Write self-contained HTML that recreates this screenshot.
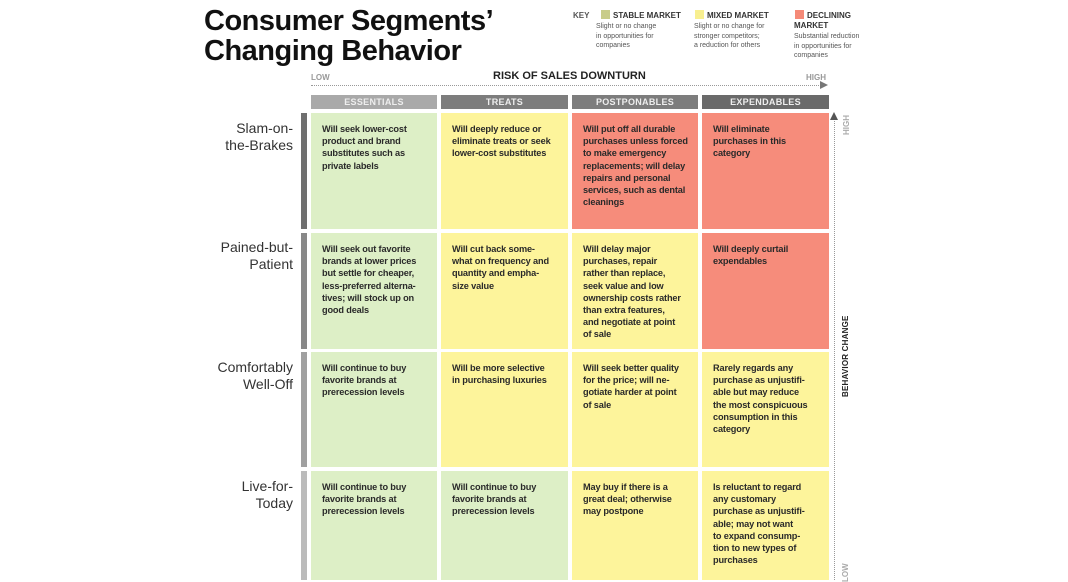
<!DOCTYPE html>
<html><head><meta charset="utf-8"><style>
*{margin:0;padding:0;box-sizing:border-box}
body{width:1068px;height:580px;background:#fff;position:relative;overflow:hidden;font-family:"Liberation Sans",sans-serif;color:#222}
.a{position:absolute}
.t{font-weight:bold;font-size:29px;letter-spacing:-0.5px;line-height:30px;color:#111}
.hd{position:absolute;top:95px;height:14px;color:#eee;font-size:9px;font-weight:bold;text-align:center;line-height:14px;letter-spacing:0.3px}
.c{position:absolute;font-size:9.2px;font-weight:bold;line-height:12.2px;padding:10px 2px 0 11px;color:#2a2a2a;letter-spacing:-0.15px}
.g{background:#ddefc6}.y{background:#fdf49b}.r{background:#f68c7b}
.rl{position:absolute;right:775px;text-align:right;font-size:14px;line-height:17px;color:#333}
.bar{position:absolute;left:301px;width:6px}
.k{font-size:7px;line-height:9.5px;color:#555}
.kh{font-size:8px;font-weight:bold;color:#333}
</style></head><body>
<div class="a t" style="left:204px;top:6px">Consumer Segments’<br>Changing Behavior</div>

<div class="a kh" style="left:573px;top:11px;color:#555">KEY</div>
<div class="a" style="left:601px;top:10px;width:9px;height:9px;background:#c8cc8a"></div>
<div class="a kh" style="left:613px;top:11px">STABLE MARKET</div>
<div class="a k" style="left:596px;top:22px">Slight or no change<br>in opportunities for<br>companies</div>
<div class="a" style="left:695px;top:10px;width:9px;height:9px;background:#f8ef90"></div>
<div class="a kh" style="left:707px;top:11px">MIXED MARKET</div>
<div class="a k" style="left:694px;top:22px">Slight or no change for<br>stronger competitors;<br>a reduction for others</div>
<div class="a" style="left:795px;top:10px;width:9px;height:9px;background:#f58a78"></div>
<div class="a kh" style="left:807px;top:11px;line-height:9.5px">DECLINING<br><span style="margin-left:-13px">MARKET</span></div>
<div class="a k" style="left:794px;top:32px">Substantial reduction<br>in opportunities for<br>companies</div>

<div class="a" style="left:311px;top:73px;font-size:8px;font-weight:bold;color:#999">LOW</div>
<div class="a" style="left:493px;top:70px;font-size:11px;font-weight:bold;color:#222">RISK OF SALES DOWNTURN</div>
<div class="a" style="left:806px;top:73px;font-size:8px;font-weight:bold;color:#999">HIGH</div>
<div class="a" style="left:311px;top:85px;width:512px;border-top:1.5px dotted #999"></div>
<div class="a" style="left:820px;top:81px;width:0;height:0;border-left:8px solid #777;border-top:4px solid transparent;border-bottom:4px solid transparent"></div>

<div class="hd" style="left:311px;width:126px;background:#a9a9a9">ESSENTIALS</div>
<div class="hd" style="left:441px;width:127px;background:#7d7d7d">TREATS</div>
<div class="hd" style="left:572px;width:126px;background:#7d7d7d">POSTPONABLES</div>
<div class="hd" style="left:702px;width:127px;background:#6a6a6a">EXPENDABLES</div>

<div class="rl" style="top:120px">Slam-on-<br>the-Brakes</div>
<div class="rl" style="top:239px">Pained-but-<br>Patient</div>
<div class="rl" style="top:359px">Comfortably<br>Well-Off</div>
<div class="rl" style="top:478px">Live-for-<br>Today</div>

<div class="bar" style="top:113px;height:116px;background:#6f6f6f"></div>
<div class="bar" style="top:233px;height:116px;background:#888"></div>
<div class="bar" style="top:352px;height:115px;background:#a0a0a0"></div>
<div class="bar" style="top:471px;height:109px;background:#bbb"></div>

<div class="c g" style="left:311px;top:113px;width:126px;height:116px">Will seek lower-cost<br>product and brand<br>substitutes such as<br>private labels</div>
<div class="c y" style="left:441px;top:113px;width:127px;height:116px">Will deeply reduce or<br>eliminate treats or seek<br>lower-cost substitutes</div>
<div class="c r" style="left:572px;top:113px;width:126px;height:116px">Will put off all durable<br>purchases unless forced<br>to make emergency<br>replacements; will delay<br>repairs and personal<br>services, such as dental<br>cleanings</div>
<div class="c r" style="left:702px;top:113px;width:127px;height:116px">Will eliminate<br>purchases in this<br>category</div>

<div class="c g" style="left:311px;top:233px;width:126px;height:116px">Will seek out favorite<br>brands at lower prices<br>but settle for cheaper,<br>less-preferred alterna-<br>tives; will stock up on<br>good deals</div>
<div class="c y" style="left:441px;top:233px;width:127px;height:116px">Will cut back some-<br>what on frequency and<br>quantity and empha-<br>size value</div>
<div class="c y" style="left:572px;top:233px;width:126px;height:116px">Will delay major<br>purchases, repair<br>rather than replace,<br>seek value and low<br>ownership costs rather<br>than extra features,<br>and negotiate at point<br>of sale</div>
<div class="c r" style="left:702px;top:233px;width:127px;height:116px">Will deeply curtail<br>expendables</div>

<div class="c g" style="left:311px;top:352px;width:126px;height:115px">Will continue to buy<br>favorite brands at<br>prerecession levels</div>
<div class="c y" style="left:441px;top:352px;width:127px;height:115px">Will be more selective<br>in purchasing luxuries</div>
<div class="c y" style="left:572px;top:352px;width:126px;height:115px">Will seek better quality<br>for the price; will ne-<br>gotiate harder at point<br>of sale</div>
<div class="c y" style="left:702px;top:352px;width:127px;height:115px">Rarely regards any<br>purchase as unjustifi-<br>able but may reduce<br>the most conspicuous<br>consumption in this<br>category</div>

<div class="c g" style="left:311px;top:471px;width:126px;height:109px">Will continue to buy<br>favorite brands at<br>prerecession levels</div>
<div class="c g" style="left:441px;top:471px;width:127px;height:109px">Will continue to buy<br>favorite brands at<br>prerecession levels</div>
<div class="c y" style="left:572px;top:471px;width:126px;height:109px">May buy if there is a<br>great deal; otherwise<br>may postpone</div>
<div class="c y" style="left:702px;top:471px;width:127px;height:109px">Is reluctant to regard<br>any customary<br>purchase as unjustifi-<br>able; may not want<br>to expand consump-<br>tion to new types of<br>purchases</div>

<div class="a" style="left:834px;top:118px;height:462px;border-left:1.5px dotted #999"></div>
<div class="a" style="left:830px;top:112px;width:0;height:0;border-bottom:8px solid #555;border-left:4px solid transparent;border-right:4px solid transparent"></div>
<div class="a" style="width:40px;font-size:8px;font-weight:bold;color:#aaa;transform:rotate(-90deg);transform-origin:0 0;top:135px;left:842px">HIGH</div>
<div class="a" style="left:841px;top:397px;width:100px;font-size:8px;font-weight:bold;color:#222;transform:rotate(-90deg);transform-origin:0 0;letter-spacing:0.2px">BEHAVIOR CHANGE</div>
<div class="a" style="left:841px;top:582px;font-size:8px;font-weight:bold;color:#aaa;transform:rotate(-90deg);transform-origin:0 0">LOW</div>
</body></html>
